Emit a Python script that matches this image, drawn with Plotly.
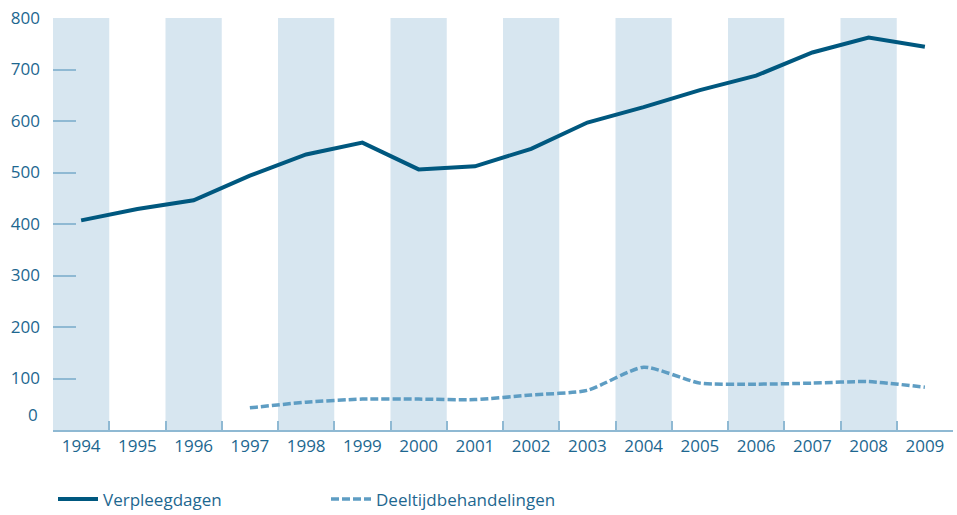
import plotly.graph_objects as go

years = [str(y) for y in range(1994, 2010)]
verpleegdagen = [407, 429, 446, 494, 535, 558, 506, 512, 546, 597, 627, 660, 688, 733, 762, 744]
deel_years = [str(y) for y in range(1997, 2010)]
deeltijd = [43, 54, 60, 60, 59, 68, 77, 122, 91, 89, 91, 94, 83]
shaded_years = ["1994", "1996", "1998", "2000", "2002", "2004", "2006", "2008"]
ytick_vals = [100, 200, 300, 400, 500, 600, 700, 800]

text_color = "#1d6790"
tick_color = "#8fb9d3"
band_color = "#d7e6f0"
font_family = "Open Sans, sans-serif"
fs = 17

fig = go.Figure()
fig.add_trace(go.Scatter(x=years, y=verpleegdagen, mode="lines", name="Verpleegdagen",
                         line=dict(color="#00587f", width=4)))
fig.add_trace(go.Scatter(x=deel_years, y=deeltijd, mode="lines", name="Deeltijdbehandelingen",
                         line=dict(color="#5e9dc3", width=3.5, dash="8px,3px", shape="spline", smoothing=0.6)))

shapes = []
for y in shaded_years:
    i = years.index(y)
    shapes.append(dict(type="rect", xref="x", yref="y", x0=i - 0.5, x1=i + 0.5, y0=0, y1=800,
                       fillcolor=band_color, line=dict(width=0), layer="below"))

fig.update_layout(
    width=957, height=515,
    margin=dict(l=53, r=4, t=18, b=85, autoexpand=False),
    paper_bgcolor="white", plot_bgcolor="white",
    font=dict(family=font_family, size=fs, color=text_color),
    shapes=shapes,
    showlegend=True,
    legend=dict(orientation="h", x=0.0, y=-0.125, xanchor="left", yanchor="top",
                itemwidth=40, entrywidth=218, entrywidthmode="pixels",
                font=dict(size=fs, color=text_color)),
    annotations=[dict(text="0", x=0, xref="paper", xanchor="right", xshift=-13,
                      y=30, yref="y", yanchor="middle", showarrow=False,
                      font=dict(size=fs, color=text_color))],
)
fig.update_xaxes(type="category", categoryorder="array", categoryarray=years, automargin=False,
                 range=[-0.5, 15.5], showgrid=False, showline=True, linecolor=tick_color, linewidth=2,
                 ticks="inside", tickson="boundaries", ticklen=9, tickcolor=tick_color, tickwidth=1.5,
                 tickfont=dict(size=fs, color=text_color), zeroline=False)
fig.update_yaxes(range=[0, 800], tickvals=ytick_vals, showgrid=False, showline=False, zeroline=False,
                 automargin=False,
                 ticks="inside", ticklen=23, tickcolor=tick_color, tickwidth=1.5,
                 ticklabelstandoff=12, tickfont=dict(size=fs, color=text_color))

fig.write_html("out.html", config={"displayModeBar": False},
               post_script="document.body.style.margin='0';document.body.style.overflow='hidden';")
